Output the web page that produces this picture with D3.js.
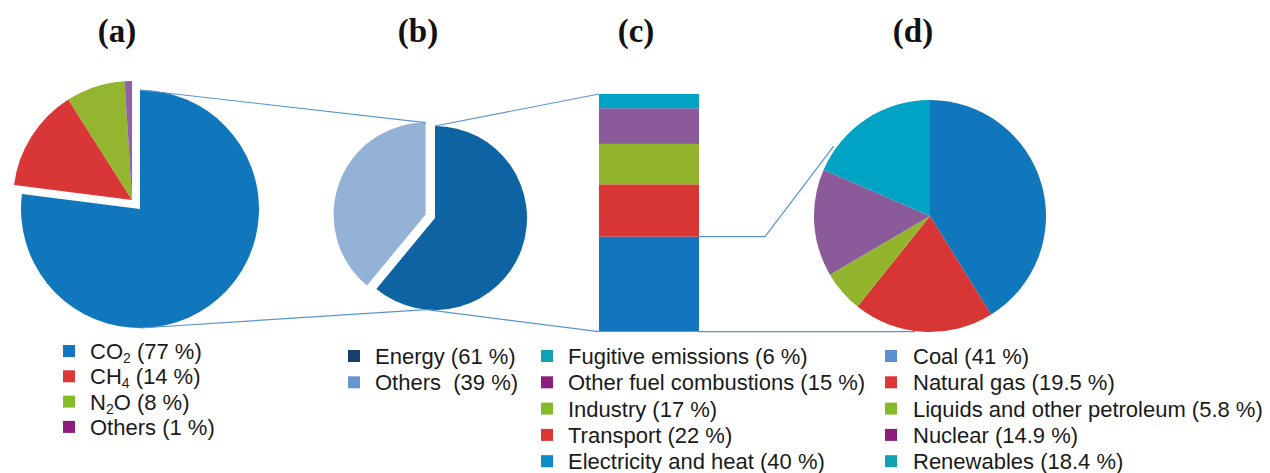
<!DOCTYPE html>
<html>
<head>
<meta charset="utf-8">
<script src="https://cdn.jsdelivr.net/npm/d3@7"></script>
<style>
  body { margin: 0; background: #fff; }
  svg { display: block; }
  .legend text { font-family: "Liberation Sans", Arial, sans-serif; font-size: 22px; fill: #1a1a1a; white-space: pre; }
  .panel-title { font-family: "Liberation Serif", "Times New Roman", serif; font-weight: bold; font-size: 33px; fill: #111; }
</style>
</head>
<body>
<script>
// (a) greenhouse gases
var gasLabels = ["CO", "CH", "N", "Others"];
var gasSubs = ["2", "4", "2", ""];
var gasTails = [" (77 %)", " (14 %)", "O (8 %)", " (1 %)"];
var gasValues = [77, 14, 8, 1];

// (b) sectors
var sectorLabels = ["Energy (61 %)", "Others  (39 %)"];
var sectorValues = [61, 39];

// (c) energy breakdown, bottom to top
var energyLabels = ["Electricity and heat (40 %)", "Transport (22 %)", "Industry (17 %)", "Other fuel combustions (15 %)", "Fugitive emissions (6 %)"];
var energyValues = [40, 22, 17, 15, 6];

// (d) electricity sources
var sourceLabels = ["Coal (41 %)", "Natural gas (19.5 %)", "Liquids and other petroleum (5.8 %)", "Nuclear (14.9 %)", "Renewables (18.4 %)"];
var sourceValues = [41, 19.5, 5.8, 14.9, 18.4];

var panelTitles = ["(a)", "(b)", "(c)", "(d)"];

var W = 1270, H = 473;
var svg = d3.select("body").append("svg").attr("width", W).attr("height", H);

var LINE = "#5a93d0";

// layout
var A = {cx: 140, cy: 209, r: 119, off: 12};
var B = {cx: 435, cy: 218, r: 92, off: 10};
var C = {x: 599, w: 100, top: 94, bottom: 331.7};
var D = {cx: 930, cy: 216, r: 116};

var pie = d3.pie().sort(null).value(function (d) { return d; });

function polar(c, ang, r) {
    return [c.cx + Math.sin(ang) * r, c.cy - Math.cos(ang) * r];
}

// ---- (a)
var gasPieColors = ["#1077bd", "#d93737", "#93b52f", "#9061a8"];
var gasArcs = pie(gasValues);
var restStart = gasArcs[1].startAngle, restEnd = gasArcs[3].endAngle;
var restMid = (restStart + restEnd) / 2;
var aG = svg.append("g").attr("transform", "translate(" + A.cx + "," + A.cy + ")");
aG.selectAll("path").data(gasArcs).enter().append("path")
    .attr("d", d3.arc().innerRadius(0).outerRadius(A.r))
    .attr("fill", function (d, i) { return gasPieColors[i]; })
    .attr("transform", function (d, i) {
        if (i === 0) return null;
        return "translate(" + (Math.sin(restMid) * A.off) + "," + (-Math.cos(restMid) * A.off) + ")";
    });

// ---- (b)
var sectorPieColors = ["#0e63a3", "#94b1d6"];
var sectorArcs = pie(sectorValues);
var bMid = (sectorArcs[1].startAngle + sectorArcs[1].endAngle) / 2;
var bOff = [Math.sin(bMid) * B.off, -Math.cos(bMid) * B.off];
var bG = svg.append("g").attr("transform", "translate(" + B.cx + "," + B.cy + ")");
bG.selectAll("path").data(sectorArcs).enter().append("path")
    .attr("d", d3.arc().innerRadius(0).outerRadius(B.r))
    .attr("fill", function (d, i) { return sectorPieColors[i]; })
    .attr("transform", function (d, i) {
        return i === 1 ? "translate(" + bOff[0] + "," + bOff[1] + ")" : null;
    });

// ---- (c)
var energyBarColors = ["#1176bd", "#d83635", "#93b52e", "#8b5a9b", "#00a3c3"];
var yC = d3.scaleLinear().domain([0, d3.sum(energyValues)]).range([C.bottom, C.top]);
var cum = 0;
var energyStack = energyValues.map(function (v) { var s = {y0: cum, y1: cum + v}; cum += v; return s; });
svg.append("g").selectAll("rect").data(energyStack).enter().append("rect")
    .attr("x", C.x).attr("width", C.w)
    .attr("y", function (d) { return yC(d.y1); })
    .attr("height", function (d) { return yC(d.y0) - yC(d.y1); })
    .attr("fill", function (d, i) { return energyBarColors[i]; });

// ---- (d)
var sourcePieColors = ["#1177bd", "#d83635", "#93b52e", "#8b5a9b", "#00a3c3"];
var sourceArcs = pie(sourceValues);
var dG = svg.append("g").attr("transform", "translate(" + D.cx + "," + D.cy + ")");
dG.selectAll("path").data(sourceArcs).enter().append("path")
    .attr("d", d3.arc().innerRadius(0).outerRadius(D.r))
    .attr("fill", function (d, i) { return sourcePieColors[i]; });

// ---- connector lines
var conn = svg.append("g").attr("fill", "none").attr("stroke", LINE).attr("stroke-width", 1.2);
var line = d3.line();
// a -> b
conn.append("path").attr("d", line([[A.cx, A.cy - A.r], [B.cx + bOff[0], B.cy - B.r + bOff[1]]]));
conn.append("path").attr("d", line([[A.cx, A.cy + A.r], polar(B, Math.PI * 1.03, B.r)]));
// b -> c
conn.append("path").attr("d", line([[B.cx, B.cy - B.r], [C.x, yC(d3.sum(energyValues))]]));
conn.append("path").attr("d", line([polar(B, Math.PI * 1.03, B.r), [C.x, yC(0)]]));
// c -> d
conn.append("path").attr("d", line([[C.x + C.w, yC(energyValues[0])], [765, yC(energyValues[0])], polar(D, Math.PI * 1.7, D.r + 3)]));
conn.append("path").attr("d", line([[C.x + C.w, yC(0)], [D.cx - 15, yC(0)]]));

// ---- titles
var titleX = [117, 418, 636, 913];
svg.selectAll(".panel-title").data(panelTitles).enter().append("text")
    .attr("class", "panel-title")
    .attr("x", function (d, i) { return titleX[i]; })
    .attr("y", 42)
    .attr("text-anchor", "middle")
    .text(function (d) { return d; });

// ---- legends
var SQ = 12;
function legend(x, y0, step, labels, colors) {
    var g = svg.append("g").attr("class", "legend");
    var rows = g.selectAll("g").data(labels).enter().append("g")
        .attr("transform", function (d, i) { return "translate(" + x + "," + (y0 + i * step) + ")"; });
    rows.append("rect").attr("x", 0).attr("y", -SQ / 2).attr("width", SQ).attr("height", SQ)
        .attr("fill", function (d, i) { return colors[i]; });
    return rows;
}

var gasLegendColors = ["#1376c0", "#dc3838", "#86bc2a", "#8c1d7c"];
var gasRows = legend(63, 351, 25.3, gasLabels, gasLegendColors);
var gasText = gasRows.append("text").attr("x", 27).attr("y", 8);
gasText.append("tspan").text(function (d) { return d; });
gasText.append("tspan").attr("dy", 4).style("font-size", "14px").text(function (d, i) { return gasSubs[i]; });
gasText.append("tspan").attr("dy", function (d, i) { return gasSubs[i] ? -4 : 0; }).text(function (d, i) { return gasTails[i]; });

var sectorLegendColors = ["#173f6e", "#6595cf"];
legend(348, 356, 26.3, sectorLabels, sectorLegendColors)
    .append("text").attr("x", 27).attr("y", 8).text(function (d) { return d; });

var energyLegendColors = ["#0e8ac8", "#dc3838", "#84bb2a", "#8c1d7c", "#12a0b5"];
var energyTopDown = energyLabels.slice().reverse();
legend(541, 356, 26.3, energyTopDown, energyLegendColors.slice().reverse())
    .append("text").attr("x", 27).attr("y", 8).text(function (d) { return d; });

var sourceLegendColors = ["#5c8fd0", "#dc3838", "#84bb2a", "#8c1d7c", "#12a0b5"];
legend(885, 356, 26.3, sourceLabels, sourceLegendColors)
    .append("text").attr("x", 28).attr("y", 8).text(function (d) { return d; });
</script>
</body>
</html>
